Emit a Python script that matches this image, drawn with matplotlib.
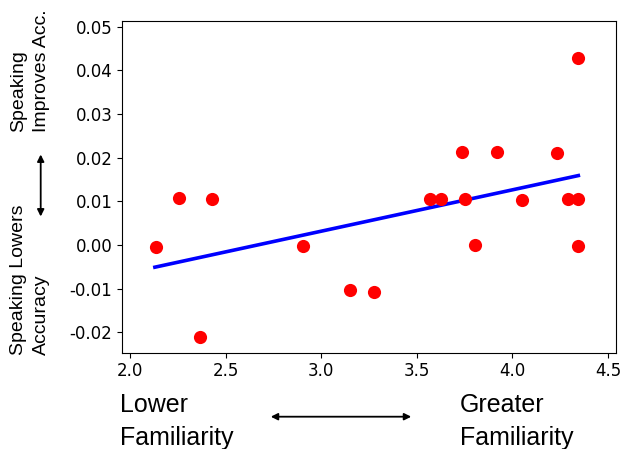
import matplotlib
matplotlib.use("Agg")
import matplotlib.pyplot as plt
import numpy as np

familiarity = [2.136, 2.258, 2.430, 2.368, 2.905, 3.152, 3.276, 3.567, 3.628, 3.752,
               3.734, 3.922, 3.803, 4.048, 4.232, 4.293, 4.345, 4.345, 4.345]
acc_diff = [-0.0004, 0.0108, 0.0106, -0.0211, -0.0003, -0.0103, -0.0108, 0.0106, 0.0106, 0.0105,
            0.0213, 0.0213, 0.0000, 0.0103, 0.0211, 0.0105, 0.0105, 0.0428, -0.0002]
fit_x = [2.13, 4.345]
fit_y = [-0.0051, 0.0159]
xticks = [2.0, 2.5, 3.0, 3.5, 4.0, 4.5]
yticks = [-0.02, -0.01, 0.00, 0.01, 0.02, 0.03, 0.04, 0.05]

W, H = 633, 449
fig = plt.figure(figsize=(W/100, H/100), dpi=100)
ax = fig.add_axes([122/W, 1-352.7/H, (616-122)/W, (352.7-20.7)/H])

ax.scatter(familiarity, acc_diff, s=90, color='red', zorder=3, linewidths=0)
ax.plot(fit_x, fit_y, color='blue', lw=2.6, zorder=2)

ax.set_xlim(1.958, 4.542)
ax.set_ylim(-0.0247, 0.0514)
ax.set_xticks(xticks)
ax.set_xticklabels([f"{v:.1f}" for v in xticks])
ax.set_yticks(yticks)
ax.set_yticklabels([f"{v:.2f}" for v in yticks])
ax.tick_params(labelsize=12)

lab = dict(family='Liberation Sans', color='black')
fig.text(30/W, 1-132/H, "Speaking\nImproves Acc.", rotation=90, ha='center', va='bottom',
         multialignment='left', fontsize=14, linespacing=1.45, **lab)
fig.text(30/W, 1-355/H, "Speaking Lowers\nAccuracy", rotation=90, ha='center', va='bottom',
         multialignment='left', fontsize=14, linespacing=1.45, **lab)
fig.text(120/W, 1-393/H, "Lower\nFamiliarity", ha='left', va='top', fontsize=18, linespacing=1.45, **lab)
fig.text(460/W, 1-393/H, "Greater\nFamiliarity", ha='left', va='top', fontsize=18, linespacing=1.45, **lab)

fig.add_artist(matplotlib.patches.FancyArrowPatch((40.7/W, 1-151.7/H), (40.7/W, 1-219.3/H),
               transform=fig.transFigure, arrowstyle='<|-|>', mutation_scale=10, color='black', lw=1.3))
fig.add_artist(matplotlib.patches.FancyArrowPatch((268/W, 1-416.7/H), (414/W, 1-416.7/H),
               transform=fig.transFigure, arrowstyle='<|-|>', mutation_scale=10, color='black', lw=1.3))

fig.savefig("out.png", dpi=100)
